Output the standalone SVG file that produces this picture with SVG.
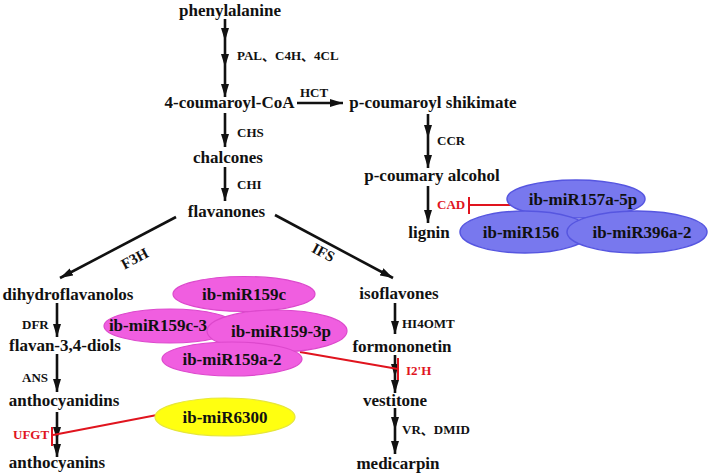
<svg xmlns="http://www.w3.org/2000/svg" width="709" height="473" viewBox="0 0 709 473">
<style>
.t{font-family:"Liberation Serif",Tinos,"Times New Roman","DejaVu Serif","Noto Sans CJK SC",serif;font-weight:bold;font-size:17px;fill:#111}
.e{font-family:"Liberation Serif",Tinos,"Times New Roman","DejaVu Serif","Noto Sans CJK SC",serif;font-weight:bold;font-size:13px;fill:#111}
.r{font-family:"Liberation Serif",Tinos,"Times New Roman","DejaVu Serif",serif;font-weight:bold;font-size:13px;fill:#e0141e}
.m{font-family:"Liberation Serif",Tinos,"Times New Roman","DejaVu Serif",serif;font-weight:bold;font-size:17px;fill:#111;text-anchor:middle}
.a{stroke:#111;stroke-width:2.6;fill:none;marker-end:url(#ah)}
.inh{stroke:#e0141e;stroke-width:2;fill:none}
.pk{fill:#f05ee0;stroke:#dc48cc;stroke-width:1.2}
.bl{fill:#7878ee;stroke:#5656e0;stroke-width:1.5}
.yl{fill:#ffff10;stroke:#e6e63c;stroke-width:1.2}
</style>
<defs>
<marker id="ah" markerUnits="userSpaceOnUse" markerWidth="14" markerHeight="8" refX="13" refY="4" orient="auto">
<path d="M0,0 L13,4 L0,8 z" fill="#111"/>
</marker>
</defs>

<g id="connectors">
<line class="a" x1="225" y1="19" x2="225" y2="41"/>
<line class="a" x1="225" y1="41" x2="225" y2="67"/>
<line class="a" x1="225" y1="67" x2="225" y2="97"/>
<line class="a" x1="297" y1="103" x2="343" y2="103"/>
<line class="a" x1="225" y1="113" x2="225" y2="147"/>
<line class="a" x1="225" y1="167" x2="225" y2="201"/>
<line class="a" x1="176" y1="217" x2="60" y2="278"/>
<line class="a" x1="275" y1="215" x2="393" y2="278"/>
<line class="a" x1="428" y1="114" x2="428" y2="138"/>
<line class="a" x1="428" y1="138" x2="428" y2="168"/>
<line class="a" x1="428" y1="186" x2="428" y2="223"/>
<line class="a" x1="57" y1="303" x2="57" y2="337"/>
<line class="a" x1="57" y1="354" x2="57" y2="392"/>
<line class="a" x1="57" y1="412" x2="57" y2="440"/>
<line class="a" x1="57" y1="440" x2="57" y2="457"/>
<line class="a" x1="395" y1="303" x2="395" y2="334"/>
<line class="a" x1="395" y1="355" x2="395" y2="377"/>
<line class="a" x1="395" y1="377" x2="395" y2="393"/>
<line class="a" x1="395" y1="408" x2="395" y2="430"/>
<line class="a" x1="395" y1="430" x2="395" y2="454"/>
<path class="inh" d="M512,205 H469 M469,197 V214"/>
<path class="inh" d="M157,415 L53,435 M52,427 V446"/>
<path class="inh" d="M300,352 L398,369 M398,358 V380"/>
</g>

<g id="labels">
<text class="t" x="230" y="16" text-anchor="middle">phenylalanine</text>
<text class="e" x="237" y="60">PAL、C4H、4CL</text>
<text class="t" x="229.5" y="108" text-anchor="middle">4-coumaroyl-CoA</text>
<text class="e" x="300" y="97">HCT</text>
<text class="t" x="433" y="108" text-anchor="middle">p-coumaroyl shikimate</text>
<text class="e" x="237" y="137">CHS</text>
<text class="t" x="228" y="163" text-anchor="middle">chalcones</text>
<text class="e" x="237" y="189">CHI</text>
<text class="t" x="226.5" y="217" text-anchor="middle">flavanones</text>
<text class="e" x="437" y="145">CCR</text>
<text class="t" x="432" y="181" text-anchor="middle">p-coumary alcohol</text>
<text class="r" x="437" y="209">CAD</text>
<text class="t" x="429" y="238" text-anchor="middle">lignin</text>
<text class="e" style="font-size:15px" transform="translate(137,263) rotate(-28)" text-anchor="middle">F3H</text>
<text class="e" style="font-size:15px" transform="translate(321,257) rotate(28)" text-anchor="middle">IFS</text>
<text class="t" x="68" y="300" text-anchor="middle">dihydroflavanolos</text>
<text class="e" x="22" y="329">DFR</text>
<text class="t" x="65" y="351" text-anchor="middle">flavan-3,4-diols</text>
<text class="e" x="22" y="382">ANS</text>
<text class="t" x="64" y="406" text-anchor="middle">anthocyanidins</text>
<text class="r" x="13" y="439">UFGT</text>
<text class="t" x="57" y="468" text-anchor="middle">anthocyanins</text>
<text class="t" x="399" y="299" text-anchor="middle">isoflavones</text>
<text class="e" x="402" y="328">HI4OMT</text>
<text class="t" x="402" y="352" text-anchor="middle">formononetin</text>
<text class="r" x="406" y="375">I2'H</text>
<text class="t" x="395" y="406" text-anchor="middle">vestitone</text>
<text class="e" x="402" y="434">VR、DMID</text>
<text class="t" x="398" y="469" text-anchor="middle">medicarpin</text>
</g>

<g id="miR157a-5p"><ellipse class="bl" cx="576" cy="199" rx="69" ry="19"/><text class="m" x="583" y="205">ib-miR157a-5p</text></g>
<g id="miR156"><ellipse class="bl" cx="525" cy="232" rx="65" ry="21"/><text class="m" x="521" y="238">ib-miR156</text></g>
<g id="miR396a-2"><ellipse class="bl" cx="637" cy="232" rx="70" ry="21"/><text class="m" x="642" y="238">ib-miR396a-2</text></g>

<g id="miR159c"><ellipse class="pk" cx="244" cy="294" rx="71" ry="17.5"/><text class="m" x="244" y="300">ib-miR159c</text></g>
<g id="miR159c-3"><ellipse class="pk" cx="170" cy="326" rx="66" ry="17"/><text class="m" x="158" y="331">ib-miR159c-3</text></g>
<g id="miR159-3p"><ellipse class="pk" cx="277" cy="331" rx="70" ry="21"/><text class="m" x="281" y="337">ib-miR159-3p</text></g>
<g id="miR159a-2"><ellipse class="pk" cx="232" cy="359" rx="70" ry="17"/><text class="m" x="232" y="365">ib-miR159a-2</text></g>

<g id="miR6300"><ellipse class="yl" cx="225" cy="417" rx="70" ry="19"/><text class="m" x="225" y="423">ib-miR6300</text></g>
</svg>
